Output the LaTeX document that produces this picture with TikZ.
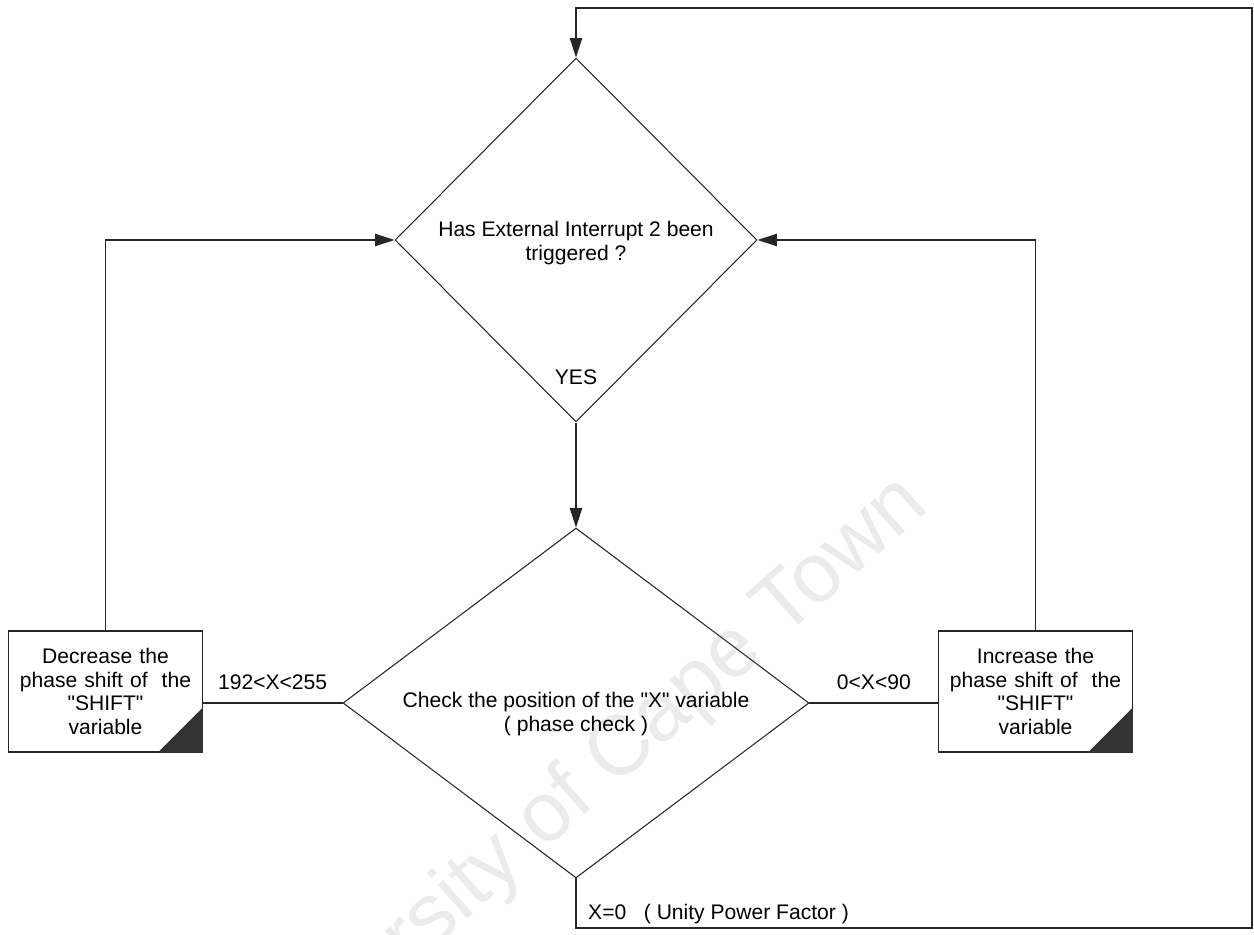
\documentclass[tikz,border=0pt]{standalone}
\usepackage{fontspec}
\setmainfont{Liberation Sans}
\usetikzlibrary{
    arrows.meta,
    shapes.geometric,
    positioning
}
\newcommand{\qq}[1]{\textquotedbl#1\textquotedbl}
\tikzstyle{decision} = [
    diamond,
    draw=black!85,
    line width=0.6pt,
    inner sep=0pt
]
\tikzstyle{action} = [
    rectangle,
    draw=black!85,
    line width=0.6pt,
    minimum width=3.87cm,
    minimum height=2.42cm,
    text width=3.6cm,
    align=center,
    font=\fontsize{12}{13.5}\selectfont
]
\tikzstyle{cond} = [
    align=center,
    font=\fontsize{12}{13.5}\selectfont
]
\tikzstyle{flow} = [
    -{Triangle[length=11pt,width=7pt]},
    line width=0.6pt,
    draw=black!85
]
\tikzstyle{link} = [
    line width=0.6pt,
    draw=black!85
]

\begin{document}
\begin{tikzpicture}[x=0.02cm, y=-0.02cm]
        \useasboundingbox (0,0) rectangle (1254,935);

        % Watermark
        \node[rotate=41.5, anchor=base east, text=black!8, font=\fontsize{48}{48}\selectfont] (mark) at (935,505) {University of Cape Town};

        % Interrupt test
        \node[decision, minimum width=7.24cm, minimum height=7.28cm] (trig) at (576,240) {};
        \node[cond] (trigtxt) at (576,243) {Has External Interrupt 2 been\\triggered ?};
        \node[cond] (yes) at (576,377) {YES};

        % Phase check
        \node[decision, minimum width=9.32cm, minimum height=7cm] (check) at (576,703) {};
        \node[cond] (checktxt) at (576,714) {Check the position of the \qq{X} variable\\( phase check )};

        % Shift updates
        \node[action] (dec) at (105.5,691.5) {Decrease the\\phase shift of \ the\\\qq{SHIFT}\\variable};
        \node[action] (inc) at (1035.5,691.5) {Increase the\\phase shift of \ the\\\qq{SHIFT}\\variable};
        \fill[black!80] (dec.south east) -- ++(-45,0) -- ++(45,-45) -- cycle;
        \fill[black!80] (inc.south east) -- ++(-45,0) -- ++(45,-45) -- cycle;

        % Return loop corners
        \coordinate (rb) at (1252,928);
        \coordinate (rt) at (1252,8);

        % Arrows
        \draw[flow] (trig) -- (check);
        \draw[link] (check.west) -- (dec.east |- check.west) node[cond, midway, above=4pt] (lo) {192<X<255};
        \draw[link] (check.east) -- (inc.west |- check.east) node[cond, midway, above=4pt] (hi) {0<X<90};
        \draw[flow] (dec.north) |- (trig.west);
        \draw[flow] (inc.north) |- (trig.east);
        \draw[flow] (check.south) |- (rb) -- (rt) -| (trig.north);
        \node[cond, anchor=west] (unity) at (582,914) {X=0\ \ \ ( Unity Power Factor )};
    \end{tikzpicture}
\end{document}
